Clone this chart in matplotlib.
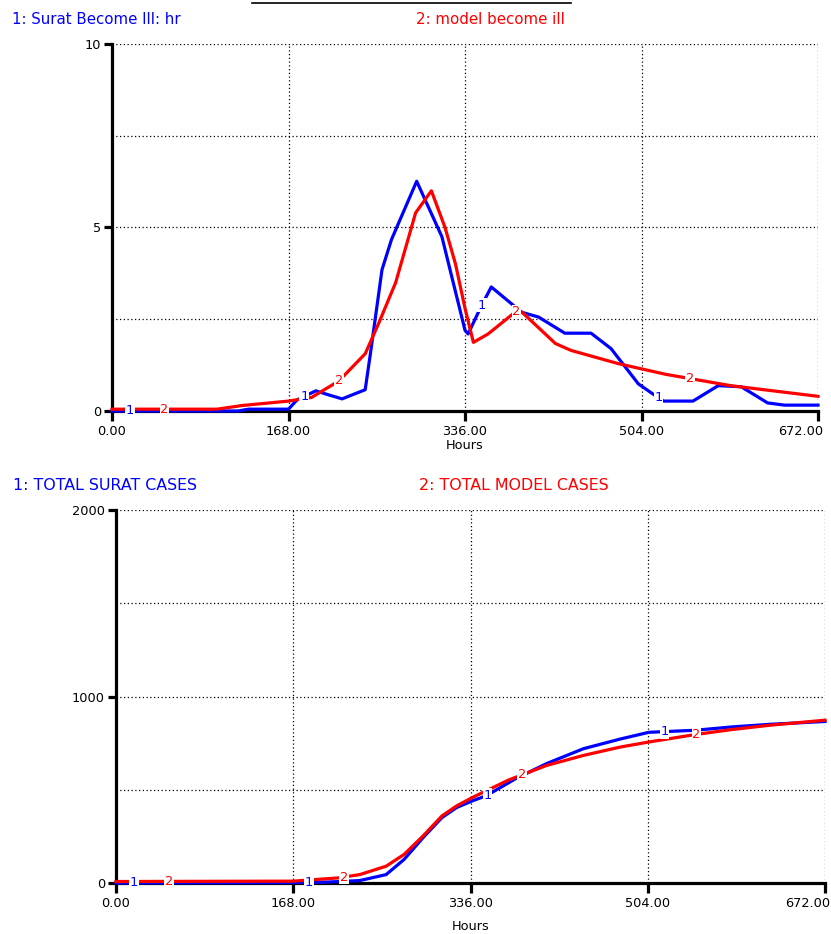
import numpy as np
import matplotlib
matplotlib.use("Agg")
import matplotlib.pyplot as plt
import matplotlib.transforms as mtransforms
from matplotlib.lines import Line2D

# Top chart: hourly rate of becoming ill
ill_hours_surat = [0, 120, 130, 168, 176, 194, 205, 219, 241, 246, 257, 266, 290, 314, 336, 339,
                   351, 361, 390, 406, 431, 456, 475, 501, 513, 525, 553, 577, 599, 624, 640, 672]
ill_surat = [0, 0, 0.05, 0.05, 0.3, 0.55, 0.45, 0.33, 0.58, 1.57, 3.85, 4.67, 6.26, 4.75, 2.2, 2.1,
             2.83, 3.38, 2.69, 2.56, 2.12, 2.12, 1.7, 0.74, 0.5, 0.27, 0.27, 0.69, 0.66, 0.22, 0.16, 0.16]
ill_hours_model = [0, 100, 124, 168, 190, 216, 241, 254, 270, 289, 304, 317, 327, 336, 344, 358,
                   384, 390, 422, 437, 482, 527, 589, 672]
ill_model = [0.05, 0.05, 0.15, 0.27, 0.37, 0.82, 1.56, 2.4, 3.5, 5.4, 6.0, 5.0, 4.0, 2.8, 1.87, 2.1,
             2.7, 2.7, 1.84, 1.65, 1.29, 1.0, 0.69, 0.4]

# Bottom chart: cumulative cases
tot_hours_surat = [0, 168, 200, 231, 256, 273, 291, 309, 323, 338, 351, 379, 408, 443, 478, 505,
                   549, 584, 620, 672]
tot_surat = [0, 2, 5, 13, 45, 126, 243, 351, 405, 441, 468, 560, 640, 720, 772, 808,
             819, 837, 851, 866]
tot_hours_model = [0, 168, 210, 231, 256, 273, 291, 309, 323, 338, 372, 408, 443, 478, 505, 549,
                   584, 620, 672]
tot_model = [8, 10, 27, 45, 90, 153, 252, 360, 414, 459, 552, 630, 684, 729, 756, 796,
             823, 846, 873]

x_ticks = [0, 168, 336, 504, 672]
x_tick_labels = ["0.00", "168.00", "336.00", "504.00", "672.00"]
label_hours_1 = [17, 183, 352, 520]
label_hours_2 = [50, 216, 385, 550]

BLUE = "#0000ff"
RED = "#ff0000"
FS = 9.3


def style_axes(ax, ymax, yticks, ygrid, labelpad):
    ax.set_xlim(0, 672)
    ax.set_ylim(0, ymax)
    for s in ["top", "right"]:
        ax.spines[s].set_visible(False)
    for s in ["left", "bottom"]:
        ax.spines[s].set_linewidth(2.3)
    ax.set_xticks(x_ticks)
    ax.set_xticklabels(x_tick_labels, fontsize=FS)
    ax.set_yticks(yticks)
    ax.set_yticklabels([str(t) for t in yticks], fontsize=FS)
    ax.tick_params(axis="x", length=7, width=2.3, pad=3)
    ax.tick_params(axis="y", length=6, width=2.3, pad=2)
    # last x label sits mostly left of its tick, as in the original
    last = ax.get_xticklabels()[-1]
    last.set_ha("right")
    last.set_transform(last.get_transform() +
                       mtransforms.ScaledTranslation(5 / 100, 0, ax.figure.dpi_scale_trans))
    for gx in x_ticks[1:]:
        ax.axvline(gx, color="black", lw=0.9, ls=(0, (1, 2)), zorder=1)
    for gy in ygrid:
        ax.axhline(gy, color="black", lw=0.9, ls=(0, (1, 2)), zorder=1)
    ax.set_xlabel("Hours", fontsize=FS, labelpad=labelpad)


def draw_series(ax, hours, vals, color, num, label_hours):
    ax.plot(hours, vals, color=color, lw=2.3, zorder=3, clip_on=False)
    for h in label_hours:
        v = np.interp(h, hours, vals)
        ax.text(h, v, num, color=color, fontsize=FS, ha="center", va="center", zorder=4,
                bbox=dict(facecolor="white", edgecolor="none", pad=0.5))


fig = plt.figure(figsize=(8.31, 9.34), dpi=100)

# top panel
ax1 = fig.add_axes([112 / 831, 1 - 411 / 934, 706 / 831, 367 / 934])
style_axes(ax1, 10, [0, 5, 10], [2.5, 5, 7.5, 10], 1)
draw_series(ax1, ill_hours_surat, ill_surat, BLUE, "1", label_hours_1)
draw_series(ax1, ill_hours_model, ill_model, RED, "2", label_hours_2)
fig.text(12 / 831, 1 - 19 / 934, "1: Surat Become Ill: hr", color=BLUE, fontsize=10.8, va="center")
fig.text(416 / 831, 1 - 19 / 934, "2: model become ill", color=RED, fontsize=10.8, va="center")
fig.add_artist(Line2D([252 / 831, 571 / 831], [1 - 3 / 934, 1 - 3 / 934], color="black", lw=1.2))

# bottom panel
ax2 = fig.add_axes([116 / 831, 1 - 883 / 934, 709 / 831, 373 / 934])
style_axes(ax2, 2000, [0, 1000, 2000], [500, 1000, 1500, 2000], 7)
draw_series(ax2, tot_hours_surat, tot_surat, BLUE, "1", label_hours_1)
draw_series(ax2, tot_hours_model, tot_model, RED, "2", label_hours_2)
fig.text(13 / 831, 1 - 485 / 934, "1: TOTAL SURAT CASES", color=BLUE, fontsize=11.4, va="center")
fig.text(419 / 831, 1 - 485 / 934, "2: TOTAL MODEL CASES", color=RED, fontsize=11.4, va="center")

fig.savefig("out.png", dpi=100)
